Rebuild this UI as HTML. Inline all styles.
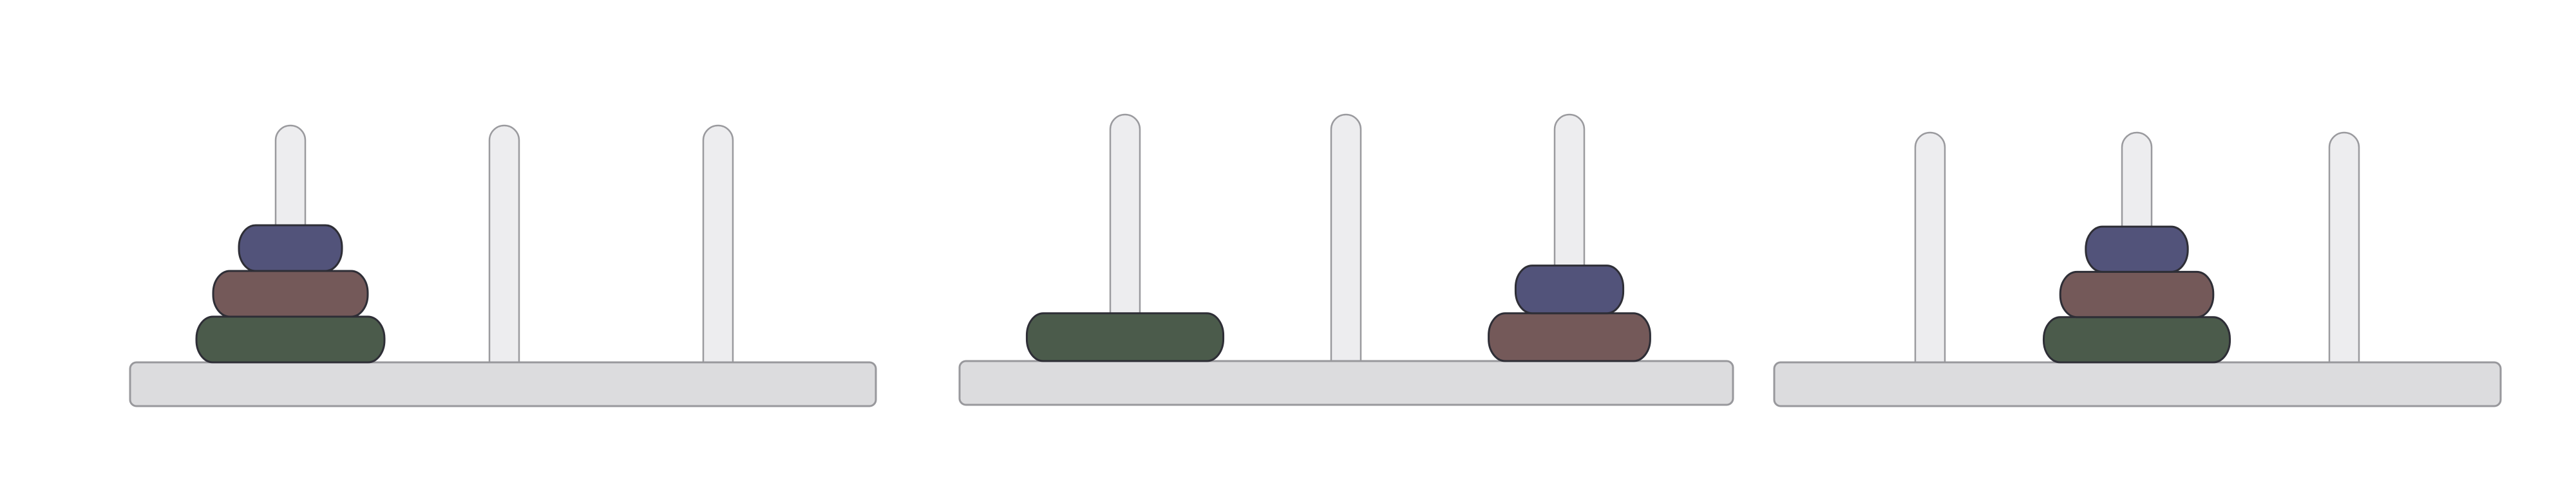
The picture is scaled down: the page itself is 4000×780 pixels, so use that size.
<!DOCTYPE html>
<html><head><meta charset="utf-8"><style>
html,body{margin:0;padding:0;background:#fff;}
svg{display:block;}
</style></head><body>
<svg id="chart" width="4000" height="780" viewBox="0 0 4000 780" xmlns="http://www.w3.org/2000/svg"></svg>
<script>
// Which peg (0,1,2) each disk sits on, per panel; disks ordered largest->smallest
const diskNames = ["large-disk","medium-disk","small-disk"];
const panel1Pegs = [0,0,0];
const panel2Pegs = [0,2,2];
const panel3Pegs = [1,1,1];
const diskWidths = [292,240,160];
const diskColors = ["#4b5b4b","#745959","#52537a"];

const panels = [
  {pegs:panel1Pegs, s:1, baseX:202, baseW:1158, baseY:563, pegX:[451,783,1115], pegTop:195},
  {pegs:panel2Pegs, s:1.045, baseX:1490, baseW:1201, baseY:561, pegX:[1747,2090,2437], pegTop:178},
  {pegs:panel3Pegs, s:0.99, baseX:2755, baseW:1128, baseY:563, pegX:[2997,3318,3640], pegTop:206}
];
const NS="http://www.w3.org/2000/svg";
const svg=document.getElementById('chart');
function mk(tag,attrs,parent){const e=document.createElementNS(NS,tag);for(const k in attrs)e.setAttribute(k,attrs[k]);parent.appendChild(e);return e;}
const diskH0=71, pegW=46;
panels.forEach((p,pi)=>{
  const g=mk('g',{},svg);
  
  
  p.pegX.forEach((cx,k)=>{
    const peg=mk('path',{d:`M${cx-pegW/2},${p.baseY} L${cx-pegW/2},${p.pegTop+pegW/2} A${pegW/2},${pegW/2} 0 0 1 ${cx+pegW/2},${p.pegTop+pegW/2} L${cx+pegW/2},${p.baseY} Z`,fill:'#ededef',stroke:'#9a9a9e','stroke-width':2.5},g);
    
    
  });
  const base=mk('rect',{x:p.baseX,y:p.baseY,width:p.baseW,height:68,rx:10,ry:10,fill:'#dcdcde',stroke:'#98989c','stroke-width':3},g);
  
  
  const counts=[0,0,0];
  const diskH=diskH0*p.s;
  p.pegs.forEach((peg,di)=>{
    const w=diskWidths[di]*p.s;
    const cx=p.pegX[peg];
    const y=p.baseY-diskH*(counts[peg]+1);
    counts[peg]++;
    const d=mk('rect',{x:cx-w/2,y:y,width:w,height:diskH,rx:26,ry:34,fill:diskColors[di],stroke:'#2e2e36','stroke-width':3},g);
    
    
  });
});
</script>
</body></html>
